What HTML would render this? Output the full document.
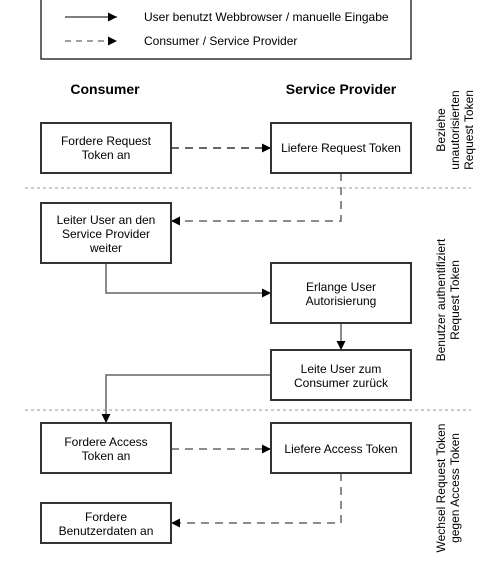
<!DOCTYPE html>
<html><head><meta charset="utf-8"><style>
html,body{margin:0;padding:0;background:#fff;width:496px;height:578px;overflow:hidden}
svg text{font-family:"Liberation Sans",Arial,sans-serif;font-size:12px;fill:#000}
</style></head><body>
<svg width="496" height="578" viewBox="0 0 496 578" xmlns="http://www.w3.org/2000/svg">
<defs>
<marker id="a" viewBox="0 0 10 10" refX="10" refY="5" markerWidth="9" markerHeight="9" orient="auto" markerUnits="userSpaceOnUse"><path d="M0,0 L10,5 L0,10 z" fill="#000"/></marker>
</defs>
<rect x="41" y="-1" width="370" height="60" fill="#fff" stroke="#333" stroke-width="1.5"/>
<line x1="65" y1="17" x2="117" y2="17" stroke="#333" stroke-width="1.3" marker-end="url(#a)"/>
<line x1="65" y1="41" x2="117" y2="41" stroke="#666" stroke-width="1.3" stroke-dasharray="6,5" marker-end="url(#a)"/>
<text x="144" y="21">User benutzt Webbrowser / manuelle Eingabe</text>
<text x="144" y="45">Consumer / Service Provider</text>
<text x="105" y="94" text-anchor="middle" font-weight="bold" style="font-size:14px">Consumer</text>
<text x="341" y="94" text-anchor="middle" font-weight="bold" style="font-size:14px">Service Provider</text>
<line x1="25" y1="188" x2="471" y2="188" stroke="#aaa" stroke-width="1.2" stroke-dasharray="3,3"/>
<line x1="25" y1="410" x2="471" y2="410" stroke="#aaa" stroke-width="1.2" stroke-dasharray="3,3"/>
<g fill="none" stroke-width="1.5">
<path d="M171,148 H271" stroke="#333" stroke-dasharray="8,6" marker-end="url(#a)"/>
<path d="M341,173 V221 H171" stroke="#666" stroke-dasharray="8,6" marker-end="url(#a)"/>
<path d="M106,263 V293 H271" stroke="#666" marker-end="url(#a)"/>
<path d="M341,323 V350" stroke="#666" marker-end="url(#a)"/>
<path d="M271,375 H106 V423" stroke="#666" marker-end="url(#a)"/>
<path d="M171,449 H271" stroke="#666" stroke-dasharray="8,6" marker-end="url(#a)"/>
<path d="M341,473 V523 H171" stroke="#666" stroke-dasharray="8,6" marker-end="url(#a)"/>
</g>
<g fill="#fff" stroke="#333" stroke-width="2">
<rect x="41" y="123" width="130" height="50"/>
<rect x="271" y="123" width="140" height="50"/>
<rect x="41" y="203" width="130" height="60"/>
<rect x="271" y="263" width="140" height="60"/>
<rect x="271" y="350" width="140" height="50"/>
<rect x="41" y="423" width="130" height="50"/>
<rect x="271" y="423" width="140" height="50"/>
<rect x="41" y="503" width="130" height="40"/>
</g>
<g text-anchor="middle">
<text x="106" y="145">Fordere Request</text><text x="106" y="159">Token an</text>
<text x="341" y="152">Liefere Request Token</text>
<text x="106" y="224">Leiter User an den</text><text x="106" y="238">Service Provider</text><text x="106" y="252">weiter</text>
<text x="341" y="291">Erlange User</text><text x="341" y="305">Autorisierung</text>
<text x="341" y="373">Leite User zum</text><text x="341" y="387">Consumer zurück</text>
<text x="106" y="446">Fordere Access</text><text x="106" y="460">Token an</text>
<text x="341" y="453">Liefere Access Token</text>
<text x="106" y="521">Fordere</text><text x="106" y="535">Benutzerdaten an</text>
</g>
<g text-anchor="middle">
<g transform="translate(455,130) rotate(-90)"><text x="0" y="-10">Beziehe</text><text x="0" y="4">unautorisierten</text><text x="0" y="18">Request Token</text></g>
<g transform="translate(448,300) rotate(-90)"><text x="0" y="-3">Benutzer authentifiziert</text><text x="0" y="11">Request Token</text></g>
<g transform="translate(448,488) rotate(-90)"><text x="0" y="-3">Wechsel Request Token</text><text x="0" y="11">gegen Access Token</text></g>
</g>
</svg>
</body></html>
